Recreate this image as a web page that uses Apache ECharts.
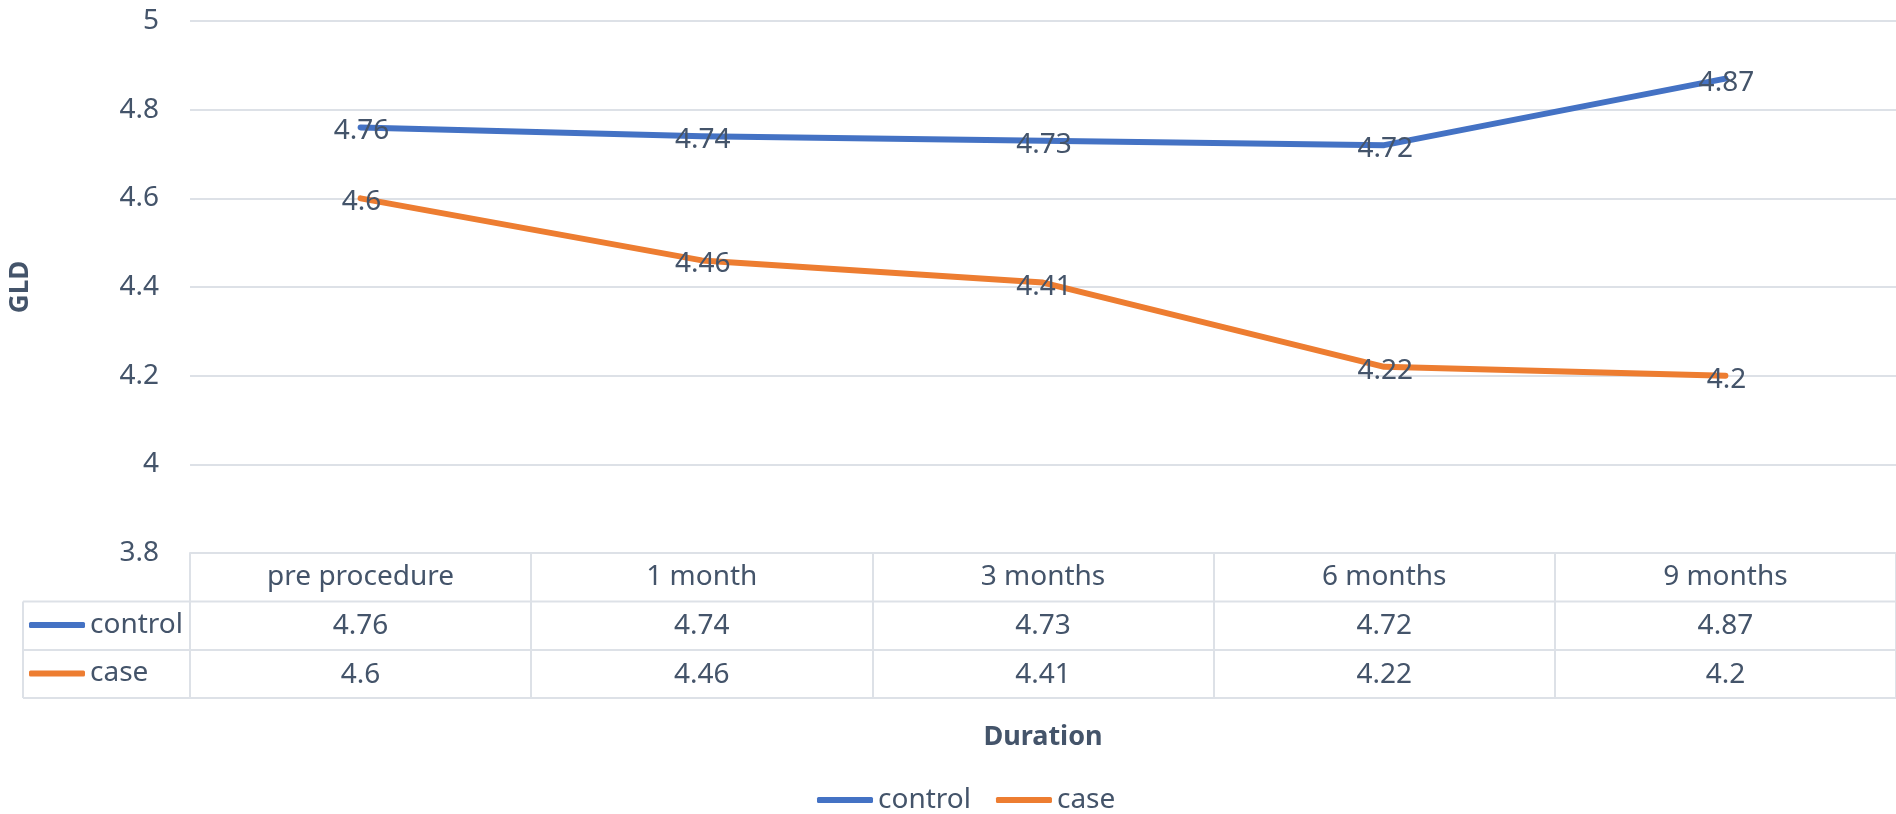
<!DOCTYPE html>
<html>
<head>
<meta charset="utf-8">
<script src="https://cdn.jsdelivr.net/npm/echarts@6/dist/echarts.min.js"></script>
<style>
  html, body { margin: 0; padding: 0; background: #fff; }
  #chart { width: 1896px; height: 814px; }
</style>
</head>
<body>
<div id="chart"></div>
<script>
// GLD over time for the two groups
const categories = ['pre procedure', '1 month', '3 months', '6 months', '9 months'];
const controlValues = [4.76, 4.74, 4.73, 4.72, 4.87];
const caseValues = [4.6, 4.46, 4.41, 4.22, 4.2];
const yTicks = { min: 3.8, max: 5, interval: 0.2 };

const FONT = '"Noto Sans", sans-serif';
const TEXT = '#44546a';
const GRIDLINE = '#dde1e7';
const BLUE = '#4472c4';
const ORANGE = '#ed7d31';

const chart = echarts.init(document.getElementById('chart'), null, { renderer: 'canvas' });

const lineLabel = {
  show: true,
  position: 'inside',
  offset: [1, 4],
  color: TEXT,
  fontFamily: FONT,
  fontSize: 28
};

function makeSeries(name, values, color) {
  return {
    name: name,
    type: 'line',
    data: values,
    symbol: 'circle',
    symbolSize: 1,
    itemStyle: { color: color },
    lineStyle: { color: color, width: 6, cap: 'round', join: 'round' },
    label: lineLabel,
    emphasis: { disabled: true },
    animation: false
  };
}

// data table lines below the plot
const tableLines = [
  { shape: { x1: 23, y1: 601.5, x2: 1896, y2: 601.5 } },
  { shape: { x1: 23, y1: 650, x2: 1896, y2: 650 } },
  { shape: { x1: 23, y1: 698, x2: 1896, y2: 698 } },
  { shape: { x1: 23, y1: 601.5, x2: 23, y2: 698 } }
].map(l => Object.assign({ type: 'line', silent: true, style: { stroke: GRIDLINE, lineWidth: 2 } }, l));

const legendText = { color: TEXT, fontFamily: FONT, fontSize: 28, lineHeight: 36 };

chart.setOption({
  backgroundColor: '#fff',
  animation: false,
  grid: { left: 188, top: 21, right: -18, height: 532, containLabel: false },
  legend: [
    {
      data: ['control', 'case'],
      left: 817, top: 782,
      icon: 'roundRect', itemWidth: 56, itemHeight: 6, itemGap: 25,
      padding: 0, selectedMode: false,
      textStyle: legendText
    },
    {
      data: ['control', 'case'],
      orient: 'vertical',
      left: 29, top: 607,
      icon: 'roundRect', itemWidth: 56, itemHeight: 6, itemGap: 12.5,
      padding: 0, selectedMode: false,
      textStyle: legendText
    }
  ],
  xAxis: {
    type: 'category',
    data: categories,
    boundaryGap: true,
    name: 'Duration',
    nameLocation: 'middle',
    nameGap: 171,
    nameTextStyle: { color: TEXT, fontFamily: FONT, fontSize: 27, fontWeight: 'bold' },
    axisLine: { show: true, lineStyle: { color: GRIDLINE, width: 2 } },
    axisTick: { show: true, interval: 0, length: 146, lineStyle: { color: GRIDLINE, width: 2 } },
    axisLabel: {
      interval: 0,
      margin: 0,
      formatter: function (value, idx) {
        return '{h|' + value + '}\n{v|' + controlValues[idx] + '}\n{v|' + caseValues[idx] + '}';
      },
      rich: {
        h: { color: TEXT, fontFamily: FONT, fontSize: 28, lineHeight: 48.7, align: 'center' },
        v: { color: TEXT, fontFamily: FONT, fontSize: 28, lineHeight: 48.7, align: 'center' }
      }
    },
    splitLine: { show: false }
  },
  yAxis: {
    type: 'value',
    min: yTicks.min,
    max: yTicks.max,
    interval: yTicks.interval,
    name: 'GLD',
    nameLocation: 'middle',
    nameRotate: 90,
    nameGap: 156,
    nameTextStyle: { color: TEXT, fontFamily: FONT, fontSize: 26, fontWeight: 'bold' },
    axisLine: { show: false },
    axisTick: { show: false },
    axisLabel: { color: TEXT, fontFamily: FONT, fontSize: 28, margin: 31 },
    splitLine: { show: true, lineStyle: { color: GRIDLINE, width: 2 } }
  },
  graphic: tableLines,
  series: [
    makeSeries('control', controlValues, BLUE),
    makeSeries('case', caseValues, ORANGE)
  ]
});
</script>
</body>
</html>
